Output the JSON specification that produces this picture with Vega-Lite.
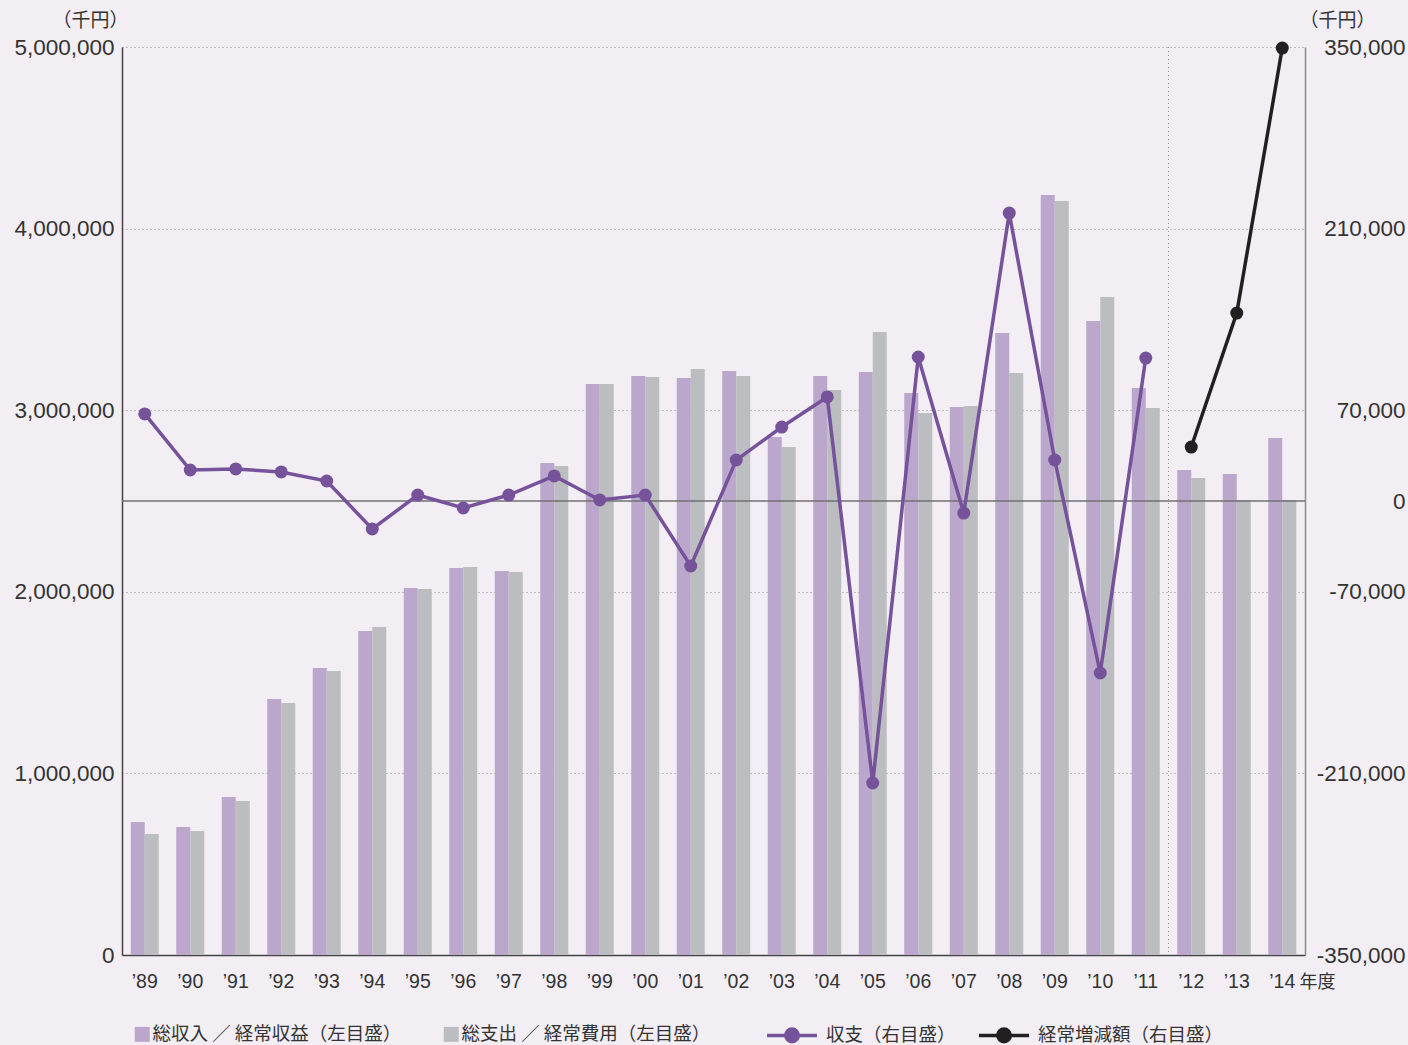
{
  "$schema": "https://vega.github.io/schema/vega-lite/v6.json",
  "width": 1183,
  "height": 908,
  "autosize": {"type": "none"},
  "padding": {"left": 122, "top": 47, "right": 103, "bottom": 90},
  "background": "#f2eef4",
  "config": {
    "view": {"stroke": null},
    "font": "Liberation Sans",
    "axis": {"labelColor": "#333333", "titleColor": "#333333", "ticks": false, "titleFontWeight": "normal"}
  },
  "datasets": {
    "bars": [
      {"year": "’89", "series": "総収入／経常収益（左目盛）", "value": 732000},
      {"year": "’89", "series": "総支出／経常費用（左目盛）", "value": 666000},
      {"year": "’90", "series": "総収入／経常収益（左目盛）", "value": 705000},
      {"year": "’90", "series": "総支出／経常費用（左目盛）", "value": 683000},
      {"year": "’91", "series": "総収入／経常収益（左目盛）", "value": 870000},
      {"year": "’91", "series": "総支出／経常費用（左目盛）", "value": 848000},
      {"year": "’92", "series": "総収入／経常収益（左目盛）", "value": 1410000},
      {"year": "’92", "series": "総支出／経常費用（左目盛）", "value": 1388000},
      {"year": "’93", "series": "総収入／経常収益（左目盛）", "value": 1580000},
      {"year": "’93", "series": "総支出／経常費用（左目盛）", "value": 1564000},
      {"year": "’94", "series": "総収入／経常収益（左目盛）", "value": 1784000},
      {"year": "’94", "series": "総支出／経常費用（左目盛）", "value": 1806000},
      {"year": "’95", "series": "総収入／経常収益（左目盛）", "value": 2021000},
      {"year": "’95", "series": "総支出／経常費用（左目盛）", "value": 2015000},
      {"year": "’96", "series": "総収入／経常収益（左目盛）", "value": 2131000},
      {"year": "’96", "series": "総支出／経常費用（左目盛）", "value": 2137000},
      {"year": "’97", "series": "総収入／経常収益（左目盛）", "value": 2115000},
      {"year": "’97", "series": "総支出／経常費用（左目盛）", "value": 2109000},
      {"year": "’98", "series": "総収入／経常収益（左目盛）", "value": 2709000},
      {"year": "’98", "series": "総支出／経常費用（左目盛）", "value": 2693000},
      {"year": "’99", "series": "総収入／経常収益（左目盛）", "value": 3144000},
      {"year": "’99", "series": "総支出／経常費用（左目盛）", "value": 3144000},
      {"year": "’00", "series": "総収入／経常収益（左目盛）", "value": 3188000},
      {"year": "’00", "series": "総支出／経常費用（左目盛）", "value": 3183000},
      {"year": "’01", "series": "総収入／経常収益（左目盛）", "value": 3177000},
      {"year": "’01", "series": "総支出／経常費用（左目盛）", "value": 3227000},
      {"year": "’02", "series": "総収入／経常収益（左目盛）", "value": 3216000},
      {"year": "’02", "series": "総支出／経常費用（左目盛）", "value": 3188000},
      {"year": "’03", "series": "総収入／経常収益（左目盛）", "value": 2852000},
      {"year": "’03", "series": "総支出／経常費用（左目盛）", "value": 2797000},
      {"year": "’04", "series": "総収入／経常収益（左目盛）", "value": 3188000},
      {"year": "’04", "series": "総支出／経常費用（左目盛）", "value": 3111000},
      {"year": "’05", "series": "総収入／経常収益（左目盛）", "value": 3210000},
      {"year": "’05", "series": "総支出／経常費用（左目盛）", "value": 3430000},
      {"year": "’06", "series": "総収入／経常収益（左目盛）", "value": 3095000},
      {"year": "’06", "series": "総支出／経常費用（左目盛）", "value": 2985000},
      {"year": "’07", "series": "総収入／経常収益（左目盛）", "value": 3018000},
      {"year": "’07", "series": "総支出／経常費用（左目盛）", "value": 3023000},
      {"year": "’08", "series": "総収入／経常収益（左目盛）", "value": 3425000},
      {"year": "’08", "series": "総支出／経常費用（左目盛）", "value": 3205000},
      {"year": "’09", "series": "総収入／経常収益（左目盛）", "value": 4185000},
      {"year": "’09", "series": "総支出／経常費用（左目盛）", "value": 4152000},
      {"year": "’10", "series": "総収入／経常収益（左目盛）", "value": 3491000},
      {"year": "’10", "series": "総支出／経常費用（左目盛）", "value": 3623000},
      {"year": "’11", "series": "総収入／経常収益（左目盛）", "value": 3122000},
      {"year": "’11", "series": "総支出／経常費用（左目盛）", "value": 3012000},
      {"year": "’12", "series": "総収入／経常収益（左目盛）", "value": 2671000},
      {"year": "’12", "series": "総支出／経常費用（左目盛）", "value": 2627000},
      {"year": "’13", "series": "総収入／経常収益（左目盛）", "value": 2649000},
      {"year": "’13", "series": "総支出／経常費用（左目盛）", "value": 2505000},
      {"year": "’14", "series": "総収入／経常収益（左目盛）", "value": 2847000},
      {"year": "’14", "series": "総支出／経常費用（左目盛）", "value": 2505000}
    ],
    "lines": [
      {"year": "’89", "series": "収支（右目盛）", "value": 67100},
      {"year": "’90", "series": "収支（右目盛）", "value": 23900},
      {"year": "’91", "series": "収支（右目盛）", "value": 24700},
      {"year": "’92", "series": "収支（右目盛）", "value": 22400},
      {"year": "’93", "series": "収支（右目盛）", "value": 15400},
      {"year": "’94", "series": "収支（右目盛）", "value": -21600},
      {"year": "’95", "series": "収支（右目盛）", "value": 4600},
      {"year": "’96", "series": "収支（右目盛）", "value": -5400},
      {"year": "’97", "series": "収支（右目盛）", "value": 4600},
      {"year": "’98", "series": "収支（右目盛）", "value": 19300},
      {"year": "’99", "series": "収支（右目盛）", "value": 800},
      {"year": "’00", "series": "収支（右目盛）", "value": 4600},
      {"year": "’01", "series": "収支（右目盛）", "value": -50100},
      {"year": "’02", "series": "収支（右目盛）", "value": 31600},
      {"year": "’03", "series": "収支（右目盛）", "value": 57000},
      {"year": "’04", "series": "収支（右目盛）", "value": 80200},
      {"year": "’05", "series": "収支（右目盛）", "value": -217400},
      {"year": "’06", "series": "収支（右目盛）", "value": 111000},
      {"year": "’07", "series": "収支（右目盛）", "value": -9300},
      {"year": "’08", "series": "収支（右目盛）", "value": 222000},
      {"year": "’09", "series": "収支（右目盛）", "value": 31600},
      {"year": "’10", "series": "収支（右目盛）", "value": -132600},
      {"year": "’11", "series": "収支（右目盛）", "value": 110200},
      {"year": "’12", "series": "経常増減額（右目盛）", "value": 41600},
      {"year": "’13", "series": "経常増減額（右目盛）", "value": 144900},
      {"year": "’14", "series": "経常増減額（右目盛）", "value": 349200}
    ]
  },
  "layer": [
    {
      "layer": [
        {
          "data": {"name": "bars"},
          "mark": {"type": "bar"},
          "encoding": {
            "x": {
              "field": "year", "type": "nominal",
              "scale": {"domain": ["’89","’90","’91","’92","’93","’94","’95","’96","’97","’98","’99","’00","’01","’02","’03","’04","’05","’06","’07","’08","’09","’10","’11","’12","’13","’14"], "paddingInner": 0, "paddingOuter": 0},
              "axis": {"title": "年度", "titleFont": "Noto Sans CJK JP", "titleFontSize": 18, "titleAnchor": "start", "titleAlign": "left", "titleBaseline": "middle", "titleX": 1177, "titleY": 27, "labelAngle": 0, "labelFontSize": 19.5, "labelPadding": 17, "domainColor": "#444444", "domainWidth": 1.5, "grid": false}
            },
            "xOffset": {
              "field": "series", "type": "nominal",
              "scale": {"domain": ["総収入／経常収益（左目盛）", "総支出／経常費用（左目盛）"], "paddingInner": 0, "paddingOuter": 0.625}
            },
            "y": {
              "field": "value", "type": "quantitative",
              "scale": {"domain": [0, 5000000], "nice": false},
              "axis": {"title": "（千円）", "titleAngle": 0, "titleFont": "Noto Sans CJK JP", "titleFontSize": 19, "titleAlign": "right", "titleBaseline": "middle", "titleX": 6, "titleY": -27, "values": [0, 1000000, 2000000, 3000000, 4000000, 5000000], "format": ",.0f", "labelFontSize": 22.5, "labelPadding": 8, "domainColor": "#444444", "domainWidth": 1.5, "grid": true, "gridDash": [1, 3], "gridColor": "#8a8a8a", "gridWidth": 1}
            },
            "fill": {
              "field": "series", "type": "nominal",
              "scale": {"domain": ["総収入／経常収益（左目盛）", "総支出／経常費用（左目盛）"], "range": ["#baa7cb", "#bcbdc0"]},
              "legend": {"title": null, "orient": "none", "legendX": 11, "legendY": 978, "direction": "horizontal", "symbolType": "square", "symbolSize": 225, "symbolStrokeWidth": 0, "labelFont": "Noto Sans CJK JP", "labelFontSize": 18.5, "labelColor": "#333333", "labelOffset": 1, "labelLimit": 400, "columnPadding": 40, "labelExpr": "replace(datum.label, '／', ' ／ ')"}
            }
          }
        },
        {
          "data": {"values": [{"year": "’12"}]},
          "mark": {"type": "rule", "strokeDash": [1, 3], "color": "#8a8a8a", "strokeWidth": 1},
          "encoding": {"x": {"field": "year", "type": "nominal", "bandPosition": 0}}
        }
      ]
    },
    {
      "layer": [
        {
          "data": {"values": [{"value": 0}]},
          "mark": {"type": "rule", "color": "#707070", "strokeWidth": 1.5},
          "encoding": {
            "y": {
              "field": "value", "type": "quantitative",
              "scale": {"domain": [-350000, 350000], "nice": false},
              "axis": {"orient": "right", "title": "（千円）", "titleAngle": 0, "titleFont": "Noto Sans CJK JP", "titleFontSize": 19, "titleAlign": "left", "titleBaseline": "middle", "titleX": -6, "titleY": -27, "values": [-350000, -210000, -70000, 0, 70000, 210000, 350000], "format": ",.0f", "labelExpr": "replace(datum.label, '−', '-')", "labelFontSize": 22.5, "labelAlign": "right", "labelPadding": 100, "domainColor": "#8a8a8a", "domainWidth": 1.5, "grid": false}
            }
          }
        },
        {
          "data": {"name": "lines"},
          "mark": {"type": "line", "strokeWidth": 3.5},
          "encoding": {
            "x": {"field": "year", "type": "nominal"},
            "y": {"field": "value", "type": "quantitative"},
            "color": {
              "field": "series", "type": "nominal",
              "scale": {"domain": ["収支（右目盛）", "経常増減額（右目盛）"], "range": ["#76529b", "#231f20"]},
              "legend": {"title": null, "orient": "none", "legendX": 643, "legendY": 961, "direction": "horizontal", "symbolType": "M-1,0L1,0M0.25,0A0.25,0.25 0 1,1 -0.25,0A0.25,0.25 0 1,1 0.25,0Z", "symbolSize": 2500, "symbolStrokeWidth": 3.5, "labelFont": "Noto Sans CJK JP", "labelFontSize": 18.5, "labelColor": "#333333", "labelOffset": 7, "labelLimit": 400, "columnPadding": 16,
                "encode": {"symbols": {"update": {"fill": {"scale": "color", "field": "value"}, "stroke": {"scale": "color", "field": "value"}, "strokeWidth": {"value": 3.5}, "opacity": {"value": 1}}}}}
            }
          }
        },
        {
          "data": {"name": "lines"},
          "mark": {"type": "point", "filled": true, "shape": "circle", "size": 169, "opacity": 1},
          "encoding": {
            "x": {"field": "year", "type": "nominal"},
            "y": {"field": "value", "type": "quantitative"},
            "color": {"field": "series", "type": "nominal"}
          }
        }
      ]
    }
  ],
  "resolve": {"scale": {"y": "independent"}}
}
